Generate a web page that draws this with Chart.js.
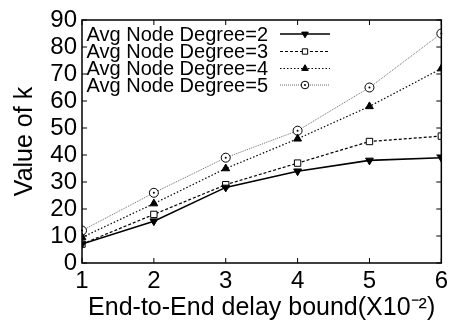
<!DOCTYPE html>
<html>
<head>
<meta charset="utf-8">
<script src="https://cdn.jsdelivr.net/npm/chart.js@4/dist/chart.umd.min.js"></script>
<style>
  html, body { margin: 0; padding: 0; background: #fff; }
  #wrap { width: 452px; height: 323px; }
</style>
</head>
<body>
<div id="wrap"><canvas id="chart" width="452" height="323"></canvas></div>
<script>
const delayBound = [1, 2, 3, 4, 5, 6];
const degree2 = [7, 15.5, 28, 34, 38, 39];
const degree3 = [7, 18, 29, 37, 45, 47];
const degree4 = [9.5, 22, 35, 46, 58, 72];
const degree5 = [12, 26, 39, 49, 65, 85];
const seriesLabels = ['Avg Node Degree=2', 'Avg Node Degree=3', 'Avg Node Degree=4', 'Avg Node Degree=5'];
const yTicks = [0, 10, 20, 30, 40, 50, 60, 70, 80, 90];

const FONT = '"Liberation Sans", Arial, Helvetica, sans-serif';

const toPoints = vals => vals.map((v, i) => ({ x: delayBound[i], y: v }));

const styles = [
  { color: '#000', width: 1.6, dash: [], point: 'triangle', rot: 180, fill: '#000', r: 4.5 },
  { color: '#000', width: 1.2, dash: [3, 2], point: 'rect', rot: 0, fill: '#fff', r: 4.5 },
  { color: '#000', width: 1.2, dash: [1.5, 2], point: 'triangle', rot: 0, fill: '#000', r: 4.5 },
  { color: '#444', width: 0.8, dash: [1, 1], point: 'circle', rot: 0, fill: '#fff', r: 4.5 },
];

const seriesData = [degree2, degree3, degree4, degree5];

function dot(ctx, x, y) {
  ctx.fillStyle = '#000';
  ctx.beginPath();
  ctx.arc(x, y, 1, 0, Math.PI * 2);
  ctx.fill();
}

// rings in circle markers get a dot in the middle
const circleDot = {
  id: 'circleDot',
  afterDatasetsDraw(chart) {
    const ctx = chart.ctx;
    ctx.save();
    chart.getDatasetMeta(3).data.forEach(p => dot(ctx, p.x, p.y));
    ctx.restore();
  }
};

// gnuplot-like frame with inward ticks and a key in the top-left
const frame = {
  id: 'frame',
  afterDraw(chart) {
    const ctx = chart.ctx;
    const a = chart.chartArea;
    const xs = chart.scales.x, ys = chart.scales.y;
    ctx.save();
    ctx.strokeStyle = '#000';
    ctx.lineWidth = 1.5;
    ctx.setLineDash([]);
    ctx.strokeRect(a.left, a.top, a.right - a.left, a.bottom - a.top);
    ctx.lineWidth = 1;
    ctx.beginPath();
    yTicks.forEach(v => {
      const y = ys.getPixelForValue(v);
      ctx.moveTo(a.left, y); ctx.lineTo(a.left + 5, y);
      ctx.moveTo(a.right, y); ctx.lineTo(a.right - 5, y);
    });
    delayBound.forEach(v => {
      const x = xs.getPixelForValue(v);
      ctx.moveTo(x, a.bottom); ctx.lineTo(x, a.bottom - 5);
      ctx.moveTo(x, a.top); ctx.lineTo(x, a.top + 5);
    });
    ctx.stroke();

    // key
    ctx.font = '20px ' + FONT;
    ctx.textAlign = 'right';
    ctx.textBaseline = 'middle';
    const rowsY = [34, 51.5, 68.5, 85];
    const textRight = 268, lx0 = 280, lx1 = 330, mx = (lx0 + lx1) / 2;
    chart.data.datasets.forEach((ds, i) => {
      const y = rowsY[i];
      const s = styles[i];
      ctx.fillStyle = '#000';
      ctx.fillText(ds.label, textRight, y + 1);
      ctx.strokeStyle = s.color;
      ctx.lineWidth = s.width;
      ctx.setLineDash(s.dash);
      ctx.beginPath();
      ctx.moveTo(lx0, y); ctx.lineTo(lx1, y);
      ctx.stroke();
      ctx.setLineDash([]);
      ctx.fillStyle = s.fill;
      ctx.strokeStyle = '#000';
      ctx.lineWidth = 1;
      Chart.helpers.drawPoint(ctx, {
        pointStyle: s.point, rotation: s.rot, radius: 3.8, borderWidth: 1
      }, mx, y);
      if (s.point === 'circle') dot(ctx, mx, y);
    });
    ctx.restore();
  }
};

const tickFont = { family: FONT, size: 24 };

new Chart(document.getElementById('chart'), {
  type: 'line',
  data: {
    datasets: seriesData.map((vals, i) => ({
      label: seriesLabels[i],
      data: toPoints(vals),
      borderColor: styles[i].color,
      borderWidth: styles[i].width,
      borderDash: styles[i].dash,
      pointStyle: styles[i].point,
      pointRotation: styles[i].rot,
      pointRadius: styles[i].r,
      pointBackgroundColor: styles[i].fill,
      pointBorderColor: '#000',
      pointBorderWidth: 1,
      tension: 0,
    }))
  },
  options: {
    responsive: false,
    animation: false,
    devicePixelRatio: 1,
    layout: { padding: { top: 20, right: 10, left: 0, bottom: 0 } },
    plugins: {
      legend: { display: false },
      tooltip: { enabled: false }
    },
    scales: {
      x: {
        type: 'linear',
        min: 1, max: 6,
        afterBuildTicks: s => { s.ticks = delayBound.map(v => ({ value: v })); },
        afterFit: s => { s.height = 60; },
        grid: { display: false, drawTicks: false },
        border: { display: false },
        ticks: { color: '#000', font: tickFont, padding: 4, autoSkip: false, maxRotation: 0 },
        title: {
          display: true,
          text: 'End-to-End delay bound(X10⁻²)',
          color: '#000',
          font: { family: FONT, size: 25 },
          padding: { top: 0, bottom: 0 }
        }
      },
      y: {
        min: 0, max: 90,
        afterBuildTicks: s => { s.ticks = yTicks.map(v => ({ value: v })); },
        afterFit: s => { s.width = 82; },
        grid: { display: false, drawTicks: false },
        border: { display: false },
        ticks: { color: '#000', font: tickFont, padding: 5, autoSkip: false },
        title: {
          display: true,
          text: 'Value of k',
          color: '#000',
          font: { family: FONT, size: 25 },
          padding: { top: 10, bottom: 0 }
        }
      }
    }
  },
  plugins: [circleDot, frame]
});
</script>
</body>
</html>
